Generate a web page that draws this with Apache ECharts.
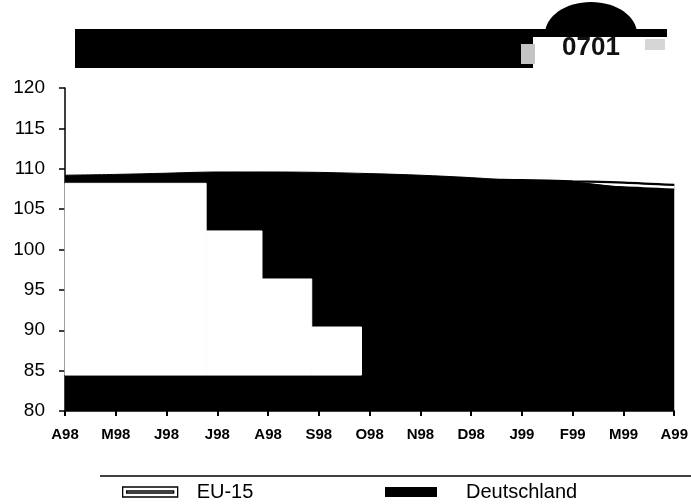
<!DOCTYPE html>
<html>
<head>
<meta charset="utf-8">
<script src="https://cdn.jsdelivr.net/npm/echarts@6/dist/echarts.min.js"></script>
<style>
html,body{margin:0;padding:0;background:#fff;}
#c{width:691px;height:504px;}
</style>
</head>
<body>
<div id="c"></div>
<script>
// ---- data ----
var categories = ['A98','M98','J98','J98','A98','S98','O98','N98','D98','J99','F99','M99','A99'];
var deutschland = [109.2, 109.3, 109.45, 109.6, 109.6, 109.55, 109.4, 109.2, 108.9, 108.5, 108.35, 107.7, 107.4];
var eu15 = [108.7, 108.8, 108.95, 109.05, 109.05, 109.0, 108.9, 108.7, 108.4, 108.3, 108.15, 108.0, 107.7];
var yTicks = [80, 85, 90, 95, 100, 105, 110, 115, 120];
// washed-out (scan) region inside the area: [xFrom, xTo, valueTop, valueBottom]
var blobX0 = [0, 2.78, 3.88, 4.86];
var blobX1 = [2.78, 3.88, 4.86, 5.84];
var blobTop = [108.2, 102.3, 96.35, 90.4];
var blobBottom = [84.45, 84.45, 84.45, 84.45];

function pairs(arr){ return arr.map(function(v,i){ return [i, v]; }); }
var blobData = blobX0.map(function(x0,i){ return [x0, blobX1[i], blobTop[i], blobBottom[i]]; });

var chart = echarts.init(document.getElementById('c'));
var FONT = 'Liberation Sans, Arial, sans-serif';
chart.setOption({
  animation: false,
  backgroundColor: '#fff',
  grid: {left: 65, right: 14, top: 88, bottom: 93},
  xAxis: {
    type: 'value', min: 0, max: categories.length - 1, interval: 1,
    axisLine: {show: true, onZero: false, lineStyle: {color: '#000', width: 1.5}},
    axisTick: {show: true, length: 5, lineStyle: {color: '#000', width: 2}},
    splitLine: {show: false},
    axisLabel: {
      margin: 16, color: '#000', fontFamily: FONT, fontWeight: 'bold', fontSize: 15,
      formatter: function(v){ return categories[v] || ''; }
    }
  },
  yAxis: {
    type: 'value', min: yTicks[0], max: yTicks[yTicks.length-1], interval: 5,
    axisLine: {show: true, lineStyle: {color: '#000', width: 1.5}},
    axisTick: {show: true, length: 6, lineStyle: {color: '#000', width: 1.5}},
    splitLine: {show: false},
    axisLabel: {margin: 20, color: '#000', fontFamily: FONT, fontSize: 19}
  },
  legend: [
    {
      data: [{name: 'EU-15', icon: 'path://M0,0H55V10H0Z M4,4H51V6H4Z',
              itemStyle: {color: '#fff', borderColor: '#000', borderWidth: 1.3}}],
      left: 117, top: 477, itemWidth: 55, itemHeight: 10,
      textStyle: {fontFamily: FONT, fontSize: 20, color: '#000', padding: [0,0,0,14]}
    },
    {
      data: [{name: 'Deutschland', icon: 'rect', itemStyle: {color: '#000'}}],
      left: 380, top: 477, itemWidth: 52, itemHeight: 10,
      textStyle: {fontFamily: FONT, fontSize: 20, color: '#000', padding: [0,0,0,24]}
    }
  ],
  graphic: [
    {type: 'rect', shape: {x: 75, y: 29, width: 592, height: 39}, style: {fill: '#000'}, z: 10},
    {type: 'ellipse', shape: {cx: 591, cy: 34, rx: 46, ry: 32}, style: {fill: '#000'}, z: 10},
    {type: 'rect', shape: {x: 533, y: 37, width: 134, height: 33}, style: {fill: '#fff'}, z: 11},
    {type: 'rect', shape: {x: 521, y: 44, width: 14, height: 20}, style: {fill: '#c4c4c4'}, z: 11},
    {type: 'rect', shape: {x: 645, y: 39, width: 20, height: 11}, style: {fill: '#d6d6d6'}, z: 11},
    {type: 'text', x: 591, y: 48, z: 12,
     style: {text: '0701', fill: '#111', font: 'bold 26px ' + FONT, textAlign: 'center', textVerticalAlign: 'middle'}},
    {type: 'line', shape: {x1: 100, y1: 476, x2: 691, y2: 476}, style: {stroke: '#000', lineWidth: 1.5}, z: 10}
  ],
  series: [
    {
      name: 'EU-15', type: 'line', data: pairs(eu15), showSymbol: false, symbol: 'none',
      smooth: 0.3, z: 1,
      lineStyle: {color: '#000', width: 7}, itemStyle: {color: '#fff'}
    },
    {
      name: 'EU-15', type: 'line', data: pairs(eu15), showSymbol: false, symbol: 'none',
      smooth: 0.3, z: 1,
      lineStyle: {color: '#fff', width: 2.5}, itemStyle: {color: '#fff'}
    },
    {
      name: 'Deutschland', type: 'line', data: pairs(deutschland), showSymbol: false, symbol: 'none',
      smooth: 0.3, z: 2,
      lineStyle: {color: '#000', width: 1},
      areaStyle: {color: '#000', opacity: 1, origin: 'start'},
      itemStyle: {color: '#000'}
    },
    {
      type: 'custom', z: 3, silent: true,
      data: blobData,
      renderItem: function(params, api){
        var p0 = api.coord([api.value(0), api.value(2)]);
        var p1 = api.coord([api.value(1), api.value(3)]);
        return {type: 'rect', shape: {x: p0[0], y: p0[1], width: p1[0]-p0[0], height: p1[1]-p0[1]},
                style: {fill: '#fff', stroke: '#fff', lineWidth: 1}};
      }
    }
  ]
});
</script>
</body>
</html>
